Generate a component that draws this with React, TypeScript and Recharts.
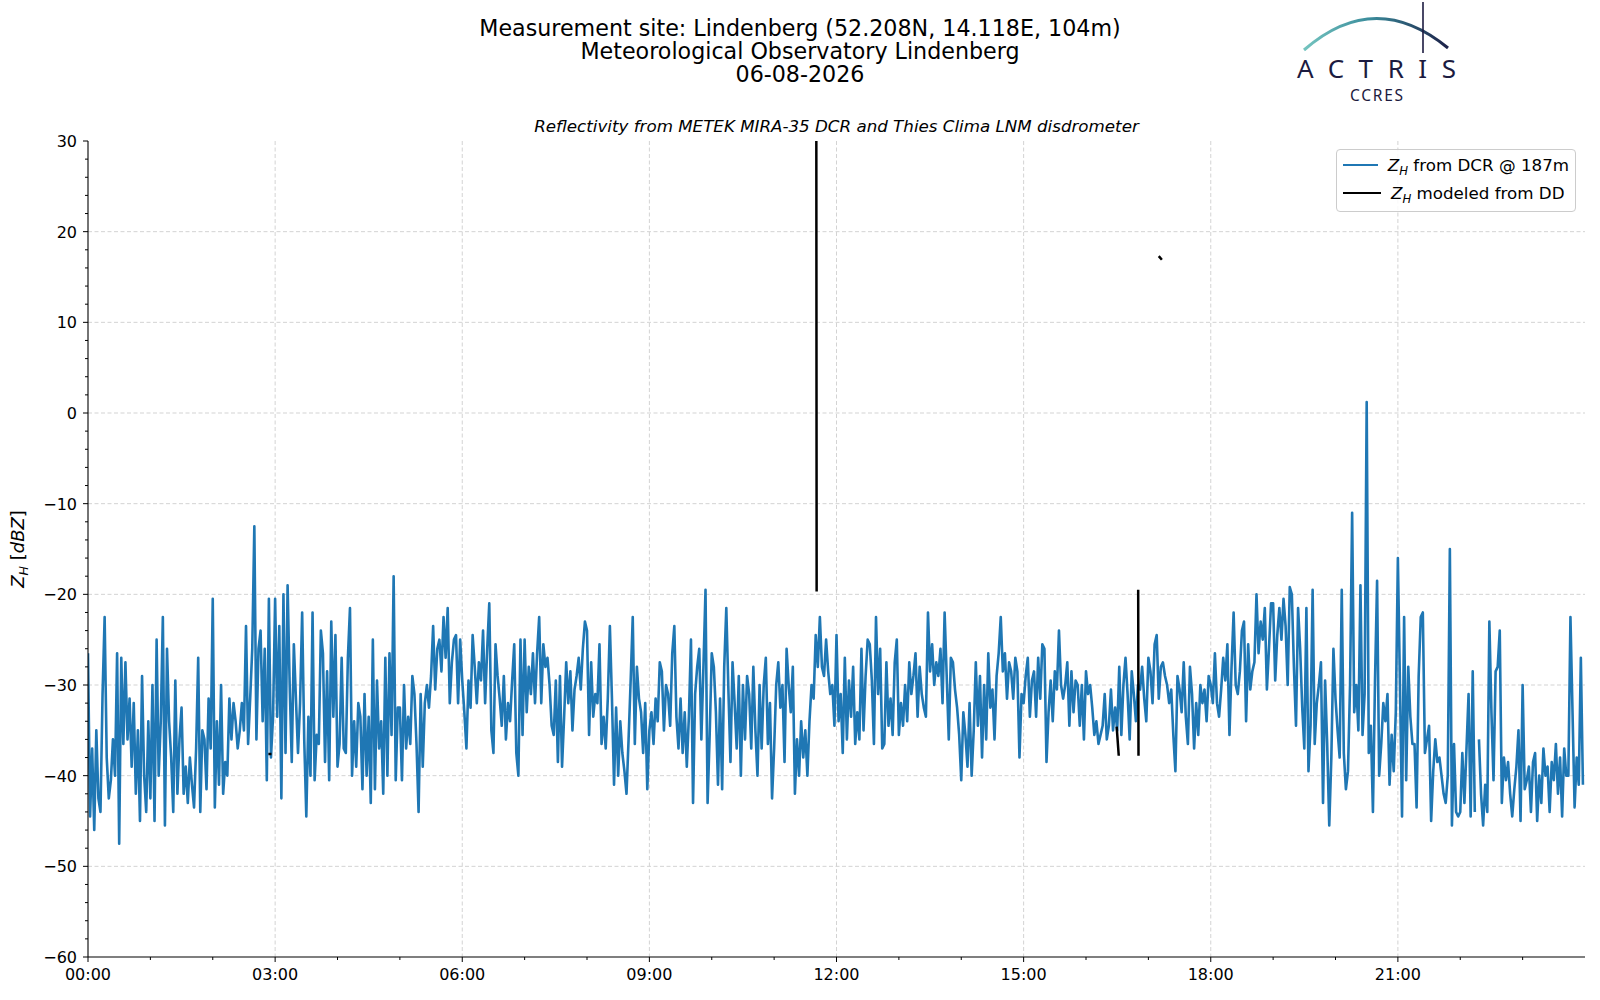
import { CartesianGrid, Legend, Line, LineChart, XAxis, YAxis } from "recharts";

// Z_H from the DCR at 187 m, one value every 2 minutes, one array per hour (UTC)
const STEP_MIN = 2;
const h00 = [-26.5, -44.5, -37, -46, -35, -42.5, -44, -31, -22.5, -38, -42.5, -40.5, -36, -40, -26.5, -47.5, -27, -36.5, -27.5, -36, -31.5, -39, -32, -42, -35, -45, -29, -40, -44, -34];
const h01 = [-42.5, -30, -45, -25, -40, -34, -22.5, -45.5, -26, -34, -38, -44, -29.5, -42, -36, -32.5, -42, -39, -43, -38, -41, -43.5, -37, -27, -44, -35, -36, -41.5, -31.5, -37];
const h02 = [-20.5, -43.5, -34, -41, -30, -42, -38.5, -40, -31.5, -36, -32, -34, -37, -35, -32, -35, -23.5, -36.5, -31.5, -26, -12.5, -36, -26, -24, -34, -26, -40.5, -20.5, -38, -33.5];
const h03 = [-20.5, -33.5, -23.5, -42.5, -20, -37.5, -19, -30, -38.5, -25.5, -31.5, -37.5, -32, -22, -36, -44.5, -33.5, -40, -22, -40.5, -35.5, -36.5, -24, -26.5, -38.5, -28.5, -40.5, -23, -33.5, -24.5];
const h04 = [-39, -36.5, -27, -37, -37.5, -27, -21.5, -40, -34, -39, -32, -33.5, -41.5, -31, -40, -33.5, -43, -25, -41.5, -29.5, -37, -34, -42, -27, -40, -26.5, -35.5, -18, -40.5, -32.5];
const h05 = [-32.5, -40.5, -30, -37, -33.5, -36.5, -29, -31, -36.5, -44, -31, -39, -32, -30, -32.5, -29, -23.5, -30.5, -26, -25, -28.5, -22.5, -27, -21.5, -32, -27.5, -25, -24.5, -32, -25];
const h06 = [-29.5, -33, -37, -29.5, -32.5, -24.5, -28, -32, -27.5, -29.5, -24, -32, -26, -21, -35, -37.5, -25.5, -29, -31.5, -34.5, -29, -36, -32, -34, -29.5, -25.5, -37.5, -40, -25, -35.5];
const h07 = [-25, -33, -28, -31, -26.5, -32, -26.5, -22.5, -32, -25.5, -28, -27, -30, -34.5, -35.5, -29.5, -38.5, -29, -39, -33.5, -27.5, -32, -28.5, -35, -30.5, -29, -27, -30.5, -26, -23];
const h08 = [-24, -35.5, -27.5, -33.5, -31, -32, -25.5, -36.5, -33.5, -37, -31.5, -23.5, -31.5, -41, -32.5, -40, -34, -37.5, -39.5, -42, -36, -29.5, -22.5, -36.5, -28, -31.5, -33, -37.5, -32, -41.5];
const h09 = [-35, -33, -36.5, -31.5, -34, -27.5, -28.5, -35, -30, -31, -34.5, -26.5, -23.5, -33.5, -37, -31.5, -37.5, -33, -39, -33.5, -25, -43, -31, -28, -26, -36, -28, -19.5, -43, -35.5];
const h10 = [-26.5, -28, -33, -41, -31.5, -41.5, -28, -21.5, -30.5, -38.5, -27.5, -32, -37, -29, -40, -30, -36, -29, -31, -37, -28, -35, -40, -30, -37, -30, -27, -36.5, -32, -42.5];
const h11 = [-37, -30, -27.5, -32.5, -30, -38.5, -26, -30, -33, -28, -42, -36, -40, -34, -38, -35, -40, -34, -30, -31.5, -24.5, -28, -22.5, -28, -29, -25, -28.5, -31, -30, -34.5];
const h12 = [-24.5, -34, -31, -37.5, -27, -36, -29.5, -33.5, -28, -36.5, -33, -36, -26, -35, -29, -25, -25.5, -29.5, -36.5, -22.5, -31, -26, -37, -36.5, -27.5, -34.5, -31.5, -35.5, -27.5, -25];
const h13 = [-35.5, -32, -34.5, -30, -34, -27.5, -31, -29, -26.5, -33.5, -28, -31, -32.5, -33.5, -22, -28.5, -25.5, -30, -27.5, -29, -26, -32, -22, -29, -36, -27, -27.5, -30.5, -32.5, -35.5];
const h14 = [-40.5, -33, -35.5, -39, -32, -40, -35, -27.5, -34.5, -29, -38, -30, -36, -26.5, -32.5, -30.5, -36, -29, -26.5, -22.5, -28.5, -26.5, -31.5, -27.5, -28.5, -31.5, -27, -28.5, -38, -31];
const h15 = [-32, -29, -27, -33.5, -29.5, -28.5, -33.5, -27, -31.5, -25.5, -26, -38.5, -33, -29.5, -34, -28.5, -30.5, -24, -30, -31.5, -30, -27.5, -34.5, -28.5, -33, -29.5, -30, -34.5, -30, -36];
const h16 = [-28.5, -31, -30, -32.5, -35.5, -34, -36.5, -35.5, -34.5, -31, -36, -34.5, -30.5, -35, -32.5, -35, -28, -35.5, -30, -27, -31, -36, -28.5, -31, -34, -30, -30.5, -28, -31.5, -34];
const h17 = [-27, -28.5, -32, -25.5, -24.5, -31.5, -28, -27.5, -29, -30, -32, -30.5, -35.5, -39.5, -29, -30.5, -33, -27.5, -33.5, -36.5, -28, -31, -37, -32, -35.5, -30, -32, -30.5, -34, -29];
const h18 = [-30, -32, -26.5, -32, -33.5, -30.5, -27, -29.5, -25.5, -35.5, -28, -22, -30, -31, -28.5, -24, -23, -34, -25.5, -30.5, -28.5, -27.5, -20, -26.5, -23, -25, -21.5, -30.5, -26, -21];
const h19 = [-21, -29.5, -24.5, -21.5, -25, -20.5, -23.5, -30, -19.2, -20, -28, -34.5, -21.5, -26, -32.5, -37, -21.5, -39.5, -34.5, -19.5, -36.5, -32, -30, -27.5, -43, -29.5, -36.5, -45.5, -38, -26];
const h20 = [-31.5, -35, -38, -19.5, -37.5, -41.5, -39.5, -30, -11, -33, -30, -35, -19, -35.5, -31, 1.2, -37.5, -34.5, -44, -29.5, -18.5, -40, -36.5, -32, -34, -31, -41, -35.5, -39.5, -33];
const h21 = [-16, -30, -44.5, -22.5, -40.5, -28, -33.5, -36.5, -36.5, -43.5, -29, -22.5, -22, -37.5, -36, -34.5, -45, -39.5, -36, -38.5, -38, -40, -42, -43, -40, -15, -45.5, -36.5, -44, -44.5];
const h22 = [-44, -37.5, -43, -37, -31, -44.5, -28.5, -44, null, -36, -42, -45.5, -41, -44, -23, -33, -40.5, -28.5, -28, -24, -43, -38, -40.5, -38.5, -42, -44.5, -41.5, -39, -35, -45];
const h23 = [-30, -41.5, -40.5, -39, -44, -38.5, -37.5, -45, -40, -43, -37, -40, -39, -44, -38.5, -40.5, -36.5, -42, -38, -44.5, -37, -40, -40, -22.5, -33, -43.5, -38, -41, -27, -41];

// Z_H modeled from the disdrometer (minutes since 00:00); null breaks the line
const ddTimes = [173.5, 176.5, 178, 700.6, 700.9, 702, 989.5, 991.5, 993, 1010.2, 1010.5, 1012, 1030, 1033];
const ddValues = [-37.6, -37.6, null, 30, -19.7, null, -34.6, -37.8, null, -19.5, -37.8, null, 17.3, 16.9];

const seriesNames = ["from DCR @ 187m", "modeled from DD"];
const seriesColors = ["#1f77b4", "#000000"];

const xTicks = [0, 60, 120, 180, 240, 300, 360, 420, 480, 540, 600, 660, 720, 780, 840, 900, 960, 1020, 1080, 1140, 1200, 1260, 1320, 1380];
const xMajorTicks = [0, 180, 360, 540, 720, 900, 1080, 1260];
const xTickLabels = ["00:00", "03:00", "06:00", "09:00", "12:00", "15:00", "18:00", "21:00"];
const yTicks = [-60, -58, -56, -54, -52, -50, -48, -46, -44, -42, -40, -38, -36, -34, -32, -30, -28, -26, -24, -22, -20, -18, -16, -14, -12, -10, -8, -6, -4, -2, 0, 2, 4, 6, 8, 10, 12, 14, 16, 18, 20, 22, 24, 26, 28, 30];
const yMajorTicks = [-60, -50, -40, -30, -20, -10, 0, 10, 20, 30];
const yTickLabels = ["\u221260", "\u221250", "\u221240", "\u221230", "\u221220", "\u221210", "0", "10", "20", "30"];

const zhRows = [h00, h01, h02, h03, h04, h05, h06, h07, h08, h09, h10, h11, h12, h13, h14, h15, h16, h17, h18, h19, h20, h21, h22, h23]
  .flat()
  .map((v, i) => ({ t: i * STEP_MIN, zh: v }));
const ddRows = ddTimes.map((t, i) => ({ t, dd: ddValues[i] }));

const FONT = "DejaVu Sans, Verdana, sans-serif";

const XTick = (props: any) => {
  const { x, y, payload } = props;
  const idx = xMajorTicks.indexOf(payload.value);
  return (
    <g>
      <line x1={x} y1={y} x2={x} y2={y + (idx >= 0 ? 5 : 3)} stroke="#000" strokeWidth={1} />
      {idx >= 0 && (
        <text x={x} y={y + 23} textAnchor="middle" fontSize={16} fontFamily={FONT} fill="#000">
          {xTickLabels[idx]}
        </text>
      )}
    </g>
  );
};

const YTick = (props: any) => {
  const { x, y, payload } = props;
  const idx = yMajorTicks.indexOf(payload.value);
  return (
    <g>
      <line x1={x - (idx >= 0 ? 5 : 3)} y1={y} x2={x} y2={y} stroke="#000" strokeWidth={1} />
      {idx >= 0 && (
        <text x={x - 11} y={y + 6} textAnchor="end" fontSize={16} fontFamily={FONT} fill="#000">
          {yTickLabels[idx]}
        </text>
      )}
    </g>
  );
};

const ZH = () => (
  <span>
    <i>Z</i>
    <i style={{ fontSize: "70%", position: "relative", top: "0.3em", lineHeight: 0 }}>H</i>
  </span>
);

const LegendBox = () => (
  <div
    style={{
      border: "1px solid #cccccc",
      borderRadius: 4,
      background: "rgba(255,255,255,0.85)",
      padding: "1px 6px 0 6px",
      fontFamily: FONT,
      fontSize: 16.7,
      lineHeight: "28px",
      boxSizing: "border-box",
      width: 240,
      height: 63,
    }}
  >
    {seriesNames.map((name, i) => (
      <div key={name} style={{ display: "flex", alignItems: "center", whiteSpace: "nowrap", height: 28 }}>
        <span style={{ display: "inline-block", width: 38, height: 2.4, background: seriesColors[i], marginRight: 10 }} />
        <ZH />
        <span>&nbsp;{name}</span>
      </div>
    ))}
  </div>
);

export default function App() {
  return (
    <div style={{ position: "absolute", left: 0, top: 0, width: 1600, height: 1000, background: "#fff" }}>
      <LineChart width={1600} height={1000} data={zhRows} margin={{ top: 141, right: 15, bottom: 0, left: 0 }}>
        <CartesianGrid
          stroke="#d3d3d3"
          strokeDasharray="4 2.5"
          horizontalValues={[-50, -40, -30, -20, -10, 0, 10, 20]}
          verticalValues={xMajorTicks.slice(1)}
        />
        <XAxis
          dataKey="t"
          type="number"
          domain={[0, 1440]}
          ticks={xTicks}
          interval={0}
          allowDataOverflow
          height={43}
          tickSize={0}
          tickMargin={0}
          tickLine={false}
          axisLine={{ stroke: "#000", strokeWidth: 1.1 }}
          tick={(p: any) => <XTick {...p} />}
        />
        <XAxis
          xAxisId="top"
          orientation="top"
          type="number"
          domain={[0, 1440]}
          height={0}
          tick={false}
          tickLine={false}
          axisLine={{ stroke: "#000", strokeWidth: 1.1 }}
        />
        <YAxis
          type="number"
          domain={[-60, 30]}
          ticks={yTicks}
          interval={0}
          allowDataOverflow
          width={88}
          tickSize={0}
          tickMargin={0}
          tickLine={false}
          axisLine={{ stroke: "#000", strokeWidth: 1.1 }}
          tick={(p: any) => <YTick {...p} />}
        />
        <YAxis
          yAxisId="right"
          orientation="right"
          type="number"
          domain={[-60, 30]}
          width={0}
          tick={false}
          tickLine={false}
          axisLine={{ stroke: "#000", strokeWidth: 1.1 }}
        />
        <Line
          dataKey="zh"
          name={seriesNames[0]}
          stroke={seriesColors[0]}
          strokeWidth={2.6}
          strokeLinejoin="round"
          dot={false}
          isAnimationActive={false}
        />
        <Line
          data={ddRows}
          dataKey="dd"
          name={seriesNames[1]}
          stroke={seriesColors[1]}
          strokeWidth={2.5}
          dot={false}
          isAnimationActive={false}
        />
        <Legend
          layout="horizontal"
          verticalAlign="middle"
          align="center"
          content={() => <LegendBox />}
          wrapperStyle={{ position: "absolute", left: 1336, top: 149, width: 240, height: 63 }}
        />
      </LineChart>

      <svg width={1600} height={1000} style={{ position: "absolute", left: 0, top: 0, pointerEvents: "none" }}>
        <defs>
          <linearGradient id="arcGrad" x1="0" y1="0" x2="1" y2="0">
            <stop offset="0" stopColor="#74c4bf" />
            <stop offset="0.45" stopColor="#3b8d9c" />
            <stop offset="1" stopColor="#1c2148" />
          </linearGradient>
        </defs>
        <g fontFamily={FONT} fill="#000" textAnchor="middle">
          <text x={800} y={36} fontSize={22.2}>Measurement site: Lindenberg (52.208N, 14.118E, 104m)</text>
          <text x={800} y={59} fontSize={22.2}>Meteorological Observatory Lindenberg</text>
          <text x={800} y={82} fontSize={22.2}>06-08-2026</text>
          <text x={836.5} y={131.5} fontSize={16.7} fontStyle="italic">
            Reflectivity from METEK MIRA-35 DCR and Thies Clima LNM disdrometer
          </text>
        </g>
        <text x={24} y={549} fontFamily={FONT} fontSize={18} textAnchor="middle" transform="rotate(-90 24 549)">
          <tspan fontStyle="italic">Z</tspan>
          <tspan fontStyle="italic" fontSize={12.6} dy={4}>H</tspan>
          <tspan dy={-4}> [</tspan>
          <tspan fontStyle="italic">dBZ</tspan>
          <tspan>]</tspan>
        </text>
        <path d="M 1304 50 Q 1375 -12 1448 48" fill="none" stroke="url(#arcGrad)" strokeWidth={3} />
        <line x1={1423} y1={2} x2={1423} y2={53} stroke="#1c1b40" strokeWidth={1.6} />
        <text x={1297} y={78} fontFamily="Noto Sans, DejaVu Sans" fontSize={26} fill="#1c1b40" textLength={159} lengthAdjust="spacing">
          ACTRIS
        </text>
        <text x={1350} y={100.5} fontFamily="Noto Sans, DejaVu Sans" fontSize={15.5} fill="#1c1b40" textLength={53} lengthAdjust="spacing">
          CCRES
        </text>
      </svg>
    </div>
  );
}
